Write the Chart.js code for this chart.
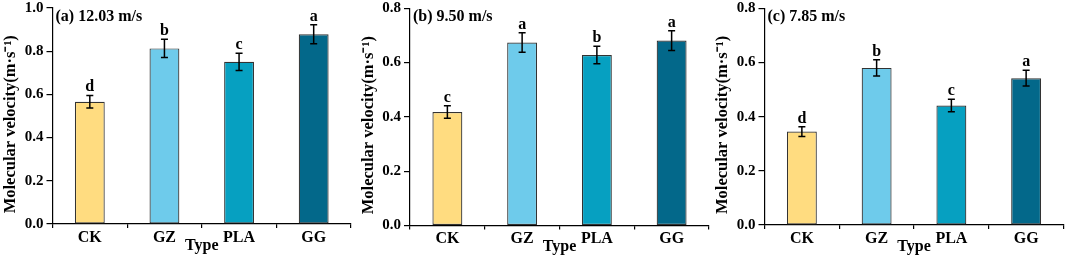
<!DOCTYPE html>
<html>
<head>
<meta charset="utf-8">
<script src="https://cdn.jsdelivr.net/npm/chart.js@4/dist/chart.umd.min.js"></script>
<style>
  html, body { margin: 0; padding: 0; background: #ffffff; }
  body { width: 1065px; height: 258px; position: relative; overflow: hidden; }
  .panel { position: absolute; top: 0; width: 355px; height: 258px; }
</style>
</head>
<body>
<div class="panel" style="left:0px"><canvas id="cA"></canvas></div>
<div class="panel" style="left:355px"><canvas id="cB"></canvas></div>
<div class="panel" style="left:710px"><canvas id="cC"></canvas></div>
<script>
// ---- data ----
const categories = ['CK', 'GZ', 'PLA', 'GG'];
const velocityA = [0.566, 0.813, 0.751, 0.878];
const errorA = [0.029, 0.042, 0.040, 0.044];
const lettersA = ['d', 'b', 'c', 'a'];
const velocityB = [0.418, 0.674, 0.628, 0.681];
const errorB = [0.023, 0.036, 0.032, 0.036];
const lettersB = ['c', 'a', 'b', 'a'];
const velocityC = [0.345, 0.580, 0.441, 0.542];
const errorC = [0.018, 0.030, 0.023, 0.029];
const lettersC = ['d', 'b', 'c', 'a'];
const panelTitles = ['(a) 12.03 m/s', '(b) 9.50 m/s', '(c) 7.85 m/s'];
const yMaxes = [1.0, 0.8, 0.8];
const yStep = 0.2;
const barColors = ['#FFDC80', '#6ECBEB', '#06A0C1', '#03688A'];

const SERIF = "'Liberation Serif', 'Times New Roman', serif";

const annotatePlugin = {
  id: 'annotate',
  afterDatasetsDraw(chart, args, opts) {
    const ctx = chart.ctx;
    const y = chart.scales.y;
    const meta = chart.getDatasetMeta(0);
    ctx.save();
    ctx.strokeStyle = '#000';
    ctx.lineWidth = 1.5;
    meta.data.forEach((bar, i) => {
      const v = opts.values[i], e = opts.errors[i];
      const yt = y.getPixelForValue(v + e);
      const yb = y.getPixelForValue(v - e);
      const x = bar.x;
      ctx.beginPath();
      ctx.moveTo(x, yt); ctx.lineTo(x, yb);
      ctx.moveTo(x - 3.5, yt); ctx.lineTo(x + 3.5, yt);
      ctx.moveTo(x - 3.5, yb); ctx.lineTo(x + 3.5, yb);
      ctx.stroke();
      ctx.fillStyle = '#000';
      ctx.font = 'bold 16px ' + SERIF;
      ctx.textAlign = 'center';
      ctx.textBaseline = 'alphabetic';
      ctx.fillText(opts.letters[i], x, yt - 4);
    });
    const ca = chart.chartArea;
    ctx.font = 'bold 16px ' + SERIF;
    ctx.textAlign = 'left';
    ctx.textBaseline = 'alphabetic';
    ctx.fillStyle = '#000';
    ctx.fillText(opts.title, ca.left + 3, ca.top + 13);
    ctx.restore();
  }
};

function makePanel(id, values, errors, letters, title, yMax, geo) {
  return new Chart(document.getElementById(id), {
    type: 'bar',
    data: {
      labels: categories,
      datasets: [{
        data: values,
        backgroundColor: barColors,
        borderColor: '#333333',
        borderWidth: 1.2,
        borderSkipped: false,
        categoryPercentage: 1.0,
        barPercentage: 0.4
      }]
    },
    plugins: [annotatePlugin],
    options: {
      responsive: true,
      maintainAspectRatio: false,
      animation: false,
      events: [],
      layout: { padding: { top: geo.top, right: geo.right, left: 0, bottom: 0 } },
      plugins: {
        legend: { display: false },
        tooltip: { enabled: false },
        annotate: { values: values, errors: errors, letters: letters, title: title }
      },
      scales: {
        x: {
          offset: true,
          border: { display: true, color: '#000', width: 1.2 },
          grid: { display: true, offset: true, drawOnChartArea: false, color: '#000', tickLength: 4, lineWidth: 1.2 },
          ticks: { color: '#000', padding: 0, font: { family: SERIF, size: 16, weight: 'bold' } },
          title: { display: true, text: 'Type', color: '#000', padding: { top: 0, bottom: geo.typePad },
                   font: { family: SERIF, size: 16, weight: 'bold' } },
          afterFit(scale) { scale.height = geo.xh; scale.paddingLeft = 0; scale.paddingRight = 0; }
        },
        y: {
          min: 0, max: yMax,
          border: { display: true, color: '#000', width: 1.2 },
          grid: { display: true, drawOnChartArea: false, color: '#000', tickLength: 6, lineWidth: 1.2 },
          ticks: { stepSize: yStep, color: '#000', padding: 3,
                   font: { family: SERIF, size: 15, weight: 'bold' },
                   callback: (v) => Number(v).toFixed(1) },
          title: { display: true, text: 'Molecular velocity(m·s⁻¹)\u2002\u2002', color: '#000',
                   padding: { top: geo.yTitlePad, bottom: 0 },
                   font: { family: SERIF, size: 16.5, weight: 'bold' } },
          afterFit(scale) { scale.width = geo.yw; scale.paddingTop = 0; scale.paddingBottom = 0; }
        }
      }
    }
  });
}

makePanel('cA', velocityA, errorA, lettersA, panelTitles[0], yMaxes[0],
  { top: 8, right: 4, yw: 52.5, xh: 34, typePad: 3, yTitlePad: 1 });
makePanel('cB', velocityB, errorB, lettersB, panelTitles[1], yMaxes[1],
  { top: 8.3, right: 1, yw: 55, xh: 32.5, typePad: 2, yTitlePad: 4 });
makePanel('cC', velocityC, errorC, lettersC, panelTitles[2], yMaxes[2],
  { top: 8.3, right: 1.5, yw: 54.5, xh: 33, typePad: 2, yTitlePad: 3 });
</script>
</body>
</html>
